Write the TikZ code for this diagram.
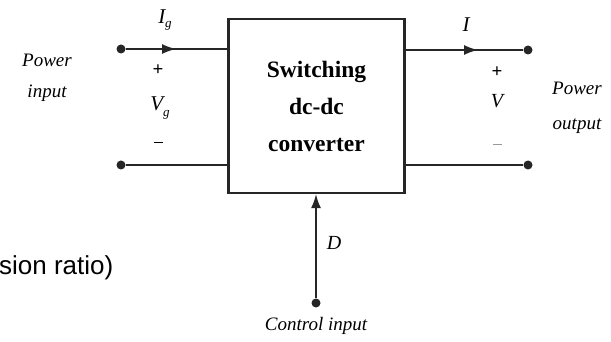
\documentclass[tikz,border=0pt]{standalone}
\usepackage{fontspec}
\setmainfont{Liberation Serif}
\newfontfamily\labsans{Liberation Sans}
\usetikzlibrary{arrows.meta}
\begin{document}
\begin{tikzpicture}[x=1pt,y=-1pt,
  wire/.style={line width=1.6pt,black!85},
  term/.style={circle,fill=black!85,inner sep=0pt,minimum size=9pt},
  lab/.style={font=\fontsize{19}{19}\selectfont\itshape,inner sep=0pt},
  sgn/.style={font=\fontsize{19}{19}\selectfont\bfseries,inner sep=0pt},
  blk/.style={draw=black!85,line width=2.2pt,minimum width=176pt,minimum height=174pt,inner sep=0pt,
    align=center,font=\fontsize{23.5}{37}\selectfont\bfseries},
  arr/.style={-{Latex[length=14pt,width=10pt]}}]
\useasboundingbox (0,0) rectangle (611,342);
\node[blk] (box) at (316.5,106) {Switching\\dc-dc\\converter};
% terminals
\node[term] (lt) at (121,49) {};
\node[term] (lb) at (121,165) {};
\node[term] (rt) at (528,50) {};
\node[term] (rb) at (528,165) {};
\node[term] (cd) at (316,303) {};
\coordinate (la) at (176,49);
\coordinate (ra) at (478,50);
% wires
\draw[wire] (lt) -- (box.west |- lt);
\draw[wire,arr] (lt) -- (la);
\draw[wire] (lb) -- (box.west |- lb);
\draw[wire] (box.east |- rt) -- (rt);
\draw[wire,arr] (box.east |- ra) -- (ra);
\draw[wire] (box.east |- rb) -- (rb);
\draw[wire,arr] (cd) -- (cd |- box.south);
% labels
\node[lab] (ig) at (165,20) {\fontsize{21}{21}\selectfont I\raisebox{-0.5ex}{\fontsize{13}{13}\selectfont g}};
\node[sgn] (lp) at (158,70) {+};
\node[lab] (vg) at (160,108) {\fontsize{21}{21}\selectfont V\raisebox{-0.6ex}{\fontsize{13}{13}\selectfont g}};
\node[sgn] (lm) at (158,144) {\rule[0.3ex]{9pt}{1.4pt}};
\node[lab] (io) at (466,25) {\fontsize{21}{21}\selectfont I};
\node[sgn] (rp) at (497,72) {+};
\node[lab] (vo) at (497,101) {\fontsize{20}{20}\selectfont V};
\node[sgn,black!40] (rm) at (497,146) {\rule[0.3ex]{9pt}{1.4pt}};
\node[lab] (pi1) at (47,60) {Power};
\node[lab] (pi2) at (47,93) {input};
\node[lab] (po1) at (577,88) {Power};
\node[lab] (po2) at (577,126) {output};
\node[lab] (dl) at (334,243) {\fontsize{20}{20}\selectfont D};
\node[lab] (ci) at (316,326) {Control input};
\node[anchor=west,inner sep=0pt,font=\fontsize{26}{26}\selectfont\labsans] (sr) at (-1,268) {sion ratio)};
\end{tikzpicture}
\end{document}
